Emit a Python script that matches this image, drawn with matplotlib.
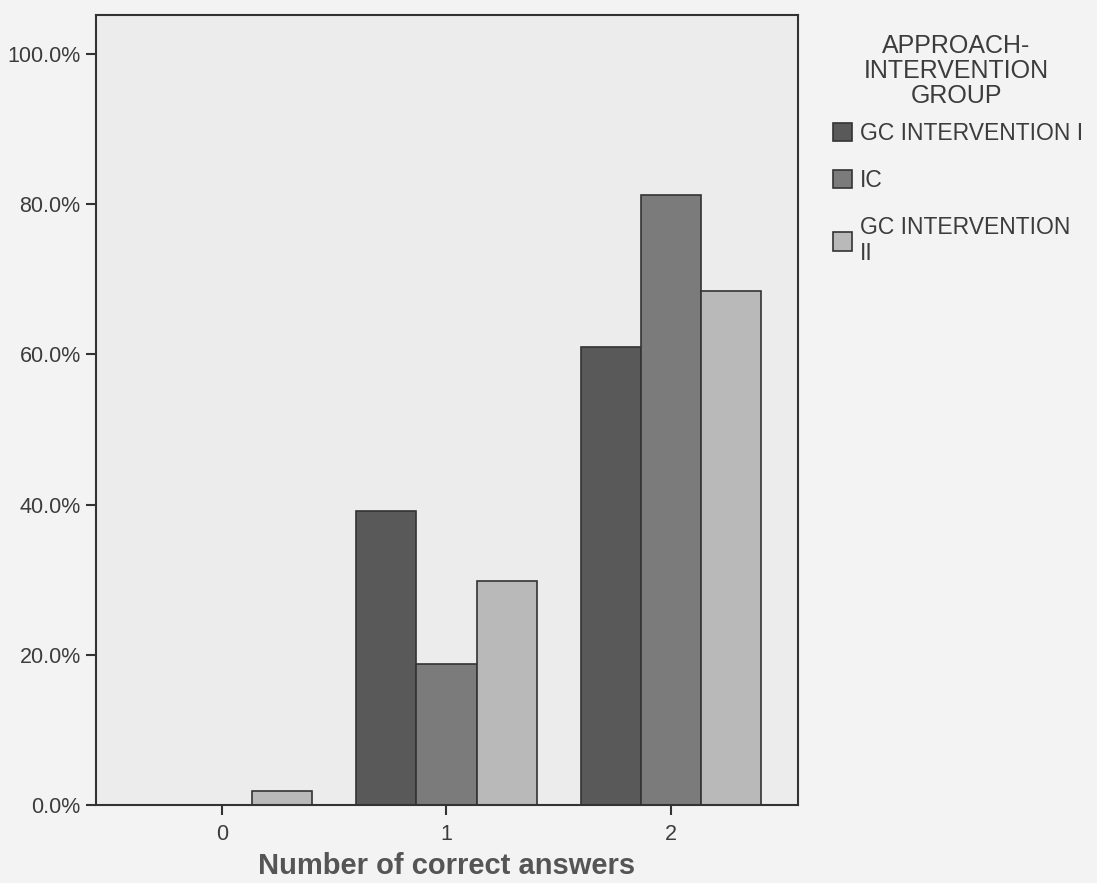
import numpy as np
import matplotlib
matplotlib.use('Agg')
import matplotlib.pyplot as plt
from matplotlib.ticker import PercentFormatter

plt.rcParams['font.family'] = ['Liberation Sans', 'DejaVu Sans']

# data (percent within each group)
categories = ['0', '1', '2']
groups = ['GC INTERVENTION I', 'IC', 'GC INTERVENTION\nII']
gc_int_1 = [0.0, 39.1, 61.0]
ic = [0.0, 18.8, 81.2]
gc_int_2 = [1.9, 29.8, 68.4]
y_ticks = [0, 20, 40, 60, 80, 100]

colors = ['#595959', '#7b7b7b', '#b9b9b9']
text_col = '#3c3c3c'

fig = plt.figure(figsize=(10.97, 8.83), dpi=100)
fig.patch.set_facecolor('#f3f3f3')
ax = fig.add_axes([96/1097, 1-805/883, (798-96)/1097, (805-15)/883])
ax.set_facecolor('#ececec')

x = np.arange(len(categories))
w = 0.268
for i, (vals, c, lab) in enumerate(zip([gc_int_1, ic, gc_int_2], colors, groups)):
    ax.bar(x + (i-1)*w, vals, width=w, color=c, edgecolor='#333333', linewidth=1.2, label=lab)

ax.set_xlim(-0.562, 2.567)
ax.set_ylim(0, 105.2)
ax.set_xticks(x)
ax.set_xticklabels(categories)
ax.set_yticks(y_ticks)
ax.yaxis.set_major_formatter(PercentFormatter(decimals=1))
ax.tick_params(axis='both', labelsize=15.5, labelcolor=text_col, color='#333333',
               direction='out', length=7, width=1.5, pad=4)
ax.tick_params(axis='x', pad=7)
for s in ax.spines.values():
    s.set_color('#333333')
    s.set_linewidth(1.5)

ax.set_xlabel('Number of correct answers', fontsize=21, fontweight='bold', color='#555555', labelpad=5)

# legend title drawn separately so the entries can sit close under it
fig.text(956/1097, 1-34/883, 'APPROACH-\nINTERVENTION\nGROUP', ha='center', va='top',
         multialignment='center', fontsize=18, linespacing=1.05, color=text_col)
leg = fig.legend(loc='upper left', bbox_to_anchor=(812/1097, 1-101/883), frameon=False,
                 fontsize=16.5, handlelength=0.85, handleheight=0.85, handletextpad=0.35,
                 labelspacing=1.05)
for t in leg.get_texts():
    t.set_color(text_col)

plt.savefig('out.png', dpi=100, facecolor=fig.get_facecolor())
